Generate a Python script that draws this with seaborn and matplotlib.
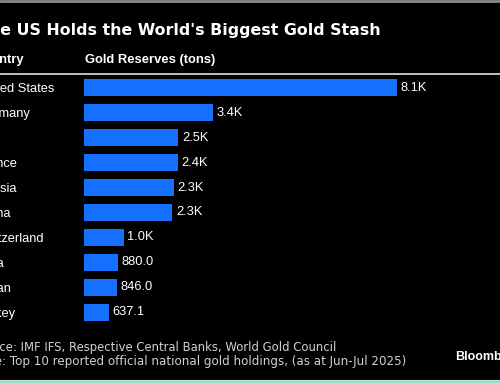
import matplotlib
matplotlib.use("Agg")
import matplotlib.pyplot as plt
from matplotlib.lines import Line2D
import seaborn as sns
import pandas as pd

countries = ["United States", "Germany", "Italy", "France", "Russia",
             "China", "Switzerland", "India", "Japan", "Turkey"]
reserves = [8133.5, 3350.3, 2451.8, 2437.0, 2329.6, 2298.5, 1040.0, 880.0, 846.0, 637.1]

title = "The US Holds the World's Biggest Gold Stash"
col_country = "Country"
col_value = "Gold Reserves (tons)"
source = "Source: IMF IFS, Respective Central Banks, World Gold Council"
note = "Note: Top 10 reported official national gold holdings, (as at Jun-Jul 2025)"
brand = "Bloomberg"

def fmt(v):
    return f"{v/1000:.1f}K" if v >= 1000 else f"{v:.1f}"

df = pd.DataFrame({"country": countries, "tons": reserves})

sns.set_theme(style="dark")
plt.rcParams["font.family"] = ["Liberation Sans", "DejaVu Sans"]

W, H = 500, 383
fig = plt.figure(figsize=(W / 100, H / 100), dpi=100, facecolor="black")

def fx(px):
    return px / W

def fy(py):
    return 1 - py / H

left, right, top, bottom = 84, 484, 75.5, 324.5
ax = fig.add_axes([fx(left), fy(bottom), fx(right - left), (bottom - top) / H])
ax.set_facecolor("black")

blue = "#1570FF"
sns.barplot(data=df, x="tons", y="country", color=blue, saturation=1,
            width=0.68, ax=ax, orient="h", linewidth=0, edgecolor="none")
ax.set_xlim(0, 8133.5 * (right - left) / (397 - left))
ax.set_ylim(9.5, -0.5)
for s in ax.spines.values():
    s.set_visible(False)
ax.set_xticks([])
ax.set_xlabel("")
ax.set_ylabel("")
ax.grid(False)

ax.set_yticks(range(len(countries)))
ax.set_yticklabels(countries)
pad_px = left + 23
ax.tick_params(axis="y", length=0, pad=pad_px * 72 / 100, labelsize=9.3,
               labelcolor="white")
for lab in ax.get_yticklabels():
    lab.set_horizontalalignment("left")

ax.bar_label(ax.containers[0], labels=[fmt(v) for v in reserves],
             padding=2.5, color="white", fontsize=9.3)

fig.text(fx(-22), fy(30), title, color="white", fontsize=11.4,
         fontweight="bold", va="center", ha="left", family=["DejaVu Sans"])
fig.text(fx(-25.5), fy(60), col_country, color="white", fontsize=9.4,
         fontweight="bold", va="center", ha="left")
fig.text(fx(85), fy(60), col_value, color="white", fontsize=9.4,
         fontweight="bold", va="center", ha="left")

fig.add_artist(Line2D([0, 1], [fy(74), fy(74)], color="#cfcfcf", lw=1.3,
                      transform=fig.transFigure))
fig.add_artist(Line2D([0, 1], [fy(1), fy(1)], color="#8a8a8a", lw=2,
                      transform=fig.transFigure))
fig.add_artist(Line2D([0, 1], [fy(379.5), fy(379.5)], color="#d8d8d8", lw=0.8,
                      transform=fig.transFigure))
fig.add_artist(Line2D([0, 1], [fy(382), fy(382)], color="#8fe3c8", lw=2.5,
                      transform=fig.transFigure))

fig.text(fx(-27), fy(347), source, color="#d0d0d0", fontsize=8.4,
         va="center", ha="left", family=["DejaVu Sans"])
fig.text(fx(-26.5), fy(361), note, color="#d0d0d0", fontsize=8.6,
         va="center", ha="left", family=["DejaVu Sans"])
fig.text(fx(455), fy(357), brand, color="white", fontsize=9,
         fontweight="bold", va="center", ha="left")

fig.savefig("out.png", dpi=100, facecolor="black")
